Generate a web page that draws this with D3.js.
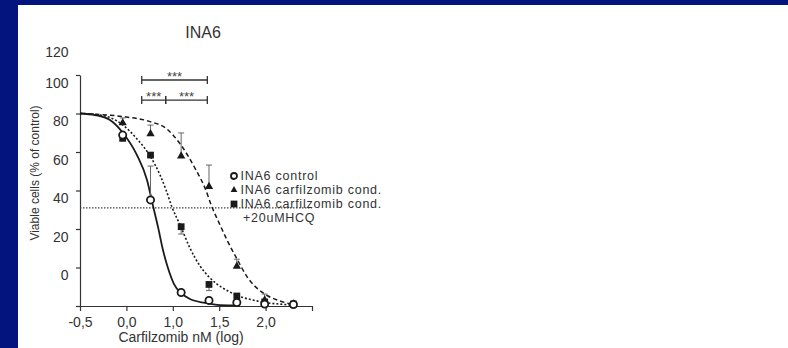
<!DOCTYPE html>
<html>
<head>
<meta charset="utf-8">
<script src="https://cdn.jsdelivr.net/npm/d3@7"></script>
<style>
html, body { margin: 0; padding: 0; background: #fff; }
svg { display: block; font-family: "Liberation Sans", Arial, sans-serif; }
</style>
</head>
<body>
<script>
// axis ticks and their (as printed) labels
const X_TICKS = [-0.5, 0, 0.5, 1, 1.5, 2];
const X_TICK_LABELS = ['-0,5', '0,0', '1,0', '1,5', '2,0'];
const Y_TICKS = [0, 20, 40, 60, 80, 100, 120];
const Y_TICK_LABELS = ['0', '20', '40', '60', '80', '100', '120'];

// measured points, log nM
const DOSES = [-0.04, 0.26, 0.59, 0.89, 1.19, 1.49, 1.80];
const CONTROL = [88.8, 55.1, 7.0, 2.9, 1.8, 1.0, 0.8];
const CONTROL_ERR = [1.0, 17.6, 0.8, 0.5, 0.3, 0.3, 0];
const CARF = [95.1, 89.4, 77.9, 62.0, 20.6, 3.1, 1.0];
const CARF_ERR = [2.6, 4.6, 12.0, 11.2, 3.7, 3.1, 0.5];
const HCQ = [87.1, 78.4, 41.2, 11.2, 5.2, 2.1, 1.0];
const HCQ_ERR = [1.2, 0.8, 3.8, 3.2, 1.7, 0.5, 0.3];

// fitted curves: [log dose, % viable]
const CONTROL_FIT = [[-0.5, 100], [-0.338, 99.2], [-0.177, 96.6], [-0.037, 89.9], [0.114, 78.4],
    [0.222, 65.5], [0.287, 52], [0.341, 41.0], [0.394, 29.1], [0.448, 19.7], [0.513, 11.4],
    [0.588, 6.8], [0.685, 3.6], [0.847, 1.6], [1.009, 0.5], [1.224, 0.3]];
const HCQ_FIT = [[-0.5, 100], [-0.284, 99.2], [-0.166, 97.7], [-0.037, 94.0], [0.114, 86.8],
    [0.254, 78.0], [0.362, 68.1], [0.427, 60.3], [0.491, 51.4], [0.578, 42.1], [0.685, 30.1],
    [0.793, 20.8], [0.890, 15.1], [0.976, 11.4], [1.095, 7.8], [1.224, 4.9], [1.364, 3.1],
    [1.494, 1.8], [1.655, 1.0], [1.795, 0.5]];
const CARF_FIT = [[-0.5, 100], [-0.284, 99.5], [-0.037, 98.4], [0.254, 95.8], [0.438, 91.9],
    [0.588, 83.6], [0.750, 70.6], [0.847, 61.3], [0.922, 51.4], [1.009, 42.1], [1.095, 33.2],
    [1.192, 24.4], [1.310, 14.5], [1.418, 8.8], [1.526, 5.2], [1.655, 2.6], [1.795, 0.8]];

const HALF_LINE = 51;

// significance brackets
const BRACKETS = [
    {x1: 0.165, x2: 0.872, y: 117.4, label: '***'},
    {x1: 0.165, x2: 0.423, y: 107.0, label: '***'},
    {x1: 0.423, x2: 0.872, y: 107.0, label: '***'},
];

const LEGEND = [
    {sym: 'circle', lines: ['INA6 control']},
    {sym: 'triangle', lines: ['INA6 carfilzomib cond.']},
    {sym: 'square', lines: ['INA6 carfilzomib cond.', '+20uMHCQ']},
];

const INK = '#1a1a1a';

function main()
{
    const svg = d3.select('body').append('svg')
        .attr('width', 788)
        .attr('height', 348);

    // slide background
    svg.append('rect').attr('width', 788).attr('height', 348).attr('fill', '#fff');
    svg.append('rect').attr('width', 788).attr('height', 5).attr('fill', '#03147f');
    svg.append('rect').attr('width', 18).attr('height', 348).attr('fill', '#03147f');

    const x = d3.scaleLinear().domain([-0.5, 2]).range([80, 312]);
    const y = d3.scaleLinear().domain([0, 120]).range([306, 75]);
    // the printed y labels sit shifted against their ticks
    const yLab = d3.scaleLinear().domain([0, 100, 120]).range([275, 83, 52]);

    // axes
    const gx = svg.append('g')
        .attr('transform', `translate(0,${y(0)})`)
        .call(d3.axisBottom(x).tickValues(X_TICKS).tickSize(5).tickSizeOuter(0)
            .tickFormat((d, i) => X_TICK_LABELS[i] || ''));
    gx.selectAll('path, line').attr('stroke', '#333').attr('stroke-width', 1.2);
    gx.selectAll('text').attr('font-size', 14).attr('fill', '#333')
        .attr('font-family', '"Liberation Sans", Arial, sans-serif').attr('dy', '0.95em');

    const gy = svg.append('g')
        .attr('transform', `translate(${x(-0.5)},0)`)
        .call(d3.axisLeft(y).tickValues(Y_TICKS).tickSize(4).tickSizeOuter(0).tickFormat(''));
    gy.selectAll('path, line').attr('stroke', '#333').attr('stroke-width', 1.2);

    const gyl = svg.append('g')
        .attr('transform', `translate(${x(-0.5)},0)`)
        .call(d3.axisLeft(yLab).tickValues(Y_TICKS).tickSize(0).tickPadding(11.5)
            .tickFormat((d, i) => Y_TICK_LABELS[i]));
    gyl.select('.domain').remove();
    gyl.selectAll('text').attr('font-size', 14).attr('fill', '#333')
        .attr('font-family', '"Liberation Sans", Arial, sans-serif');

    // titles
    svg.append('text')
        .attr('x', 203).attr('y', 38)
        .attr('text-anchor', 'middle').attr('font-size', 16).attr('fill', '#333')
        .text('INA6');
    svg.append('text')
        .attr('x', 181).attr('y', 342)
        .attr('text-anchor', 'middle').attr('font-size', 14).attr('fill', '#333')
        .text('Carfilzomib nM (log)');
    svg.append('text')
        .attr('transform', 'translate(38.5,173) rotate(-90)')
        .attr('text-anchor', 'middle').attr('font-size', 12).attr('fill', '#333')
        .text('Viable cells (% of control)');

    // 50% line
    svg.append('line')
        .attr('x1', x(-0.5)).attr('x2', x(2))
        .attr('y1', y(HALF_LINE)).attr('y2', y(HALF_LINE))
        .attr('stroke', '#444').attr('stroke-width', 1.2)
        .attr('stroke-dasharray', '1.5,1.5');

    // fitted curves
    const line = d3.line()
        .curve(d3.curveMonotoneX)
        .x(d => x(d[0]))
        .y(d => y(d[1]));
    const fits = [
        {data: CONTROL_FIT, dash: null, w: 1.8},
        {data: HCQ_FIT, dash: '2,2', w: 1.6},
        {data: CARF_FIT, dash: '4.5,3', w: 1.5},
    ];
    fits.forEach(f => {
        svg.append('path')
            .attr('d', line(f.data))
            .attr('fill', 'none')
            .attr('stroke', INK)
            .attr('stroke-width', f.w)
            .attr('stroke-dasharray', f.dash);
    });

    // error bars
    function errorBars(vals, errs, dir)
    {
        const g = svg.append('g').attr('stroke', '#666').attr('stroke-width', 1);
        DOSES.forEach((d, i) => {
            if (errs[i] <= 0) return;
            const x0 = x(d), y0 = y(vals[i]), y1 = y(vals[i] + dir * errs[i]);
            g.append('line').attr('x1', x0).attr('x2', x0).attr('y1', y0).attr('y2', y1);
            g.append('line').attr('x1', x0 - 3).attr('x2', x0 + 3).attr('y1', y1).attr('y2', y1);
        });
    }
    errorBars(CONTROL, CONTROL_ERR, 1);
    errorBars(CARF, CARF_ERR, 1);
    errorBars(HCQ, HCQ_ERR, -1);

    // markers
    const tri = d3.symbol(d3.symbolTriangle, 30)();
    const sq = d3.symbol(d3.symbolSquare, 46)();
    svg.append('g').selectAll('path')
        .data(DOSES.map((d, i) => [d, HCQ[i]]))
        .join('path')
        .attr('d', sq)
        .attr('transform', d => `translate(${x(d[0])},${y(d[1])})`)
        .attr('fill', INK);
    svg.append('g').selectAll('path')
        .data(DOSES.map((d, i) => [d, CARF[i]]))
        .join('path')
        .attr('d', tri)
        .attr('transform', d => `translate(${x(d[0])},${y(d[1])})`)
        .attr('fill', INK);
    svg.append('g').selectAll('circle')
        .data(DOSES.map((d, i) => [d, CONTROL[i]]))
        .join('circle')
        .attr('cx', d => x(d[0]))
        .attr('cy', d => y(d[1]))
        .attr('r', 3.6)
        .attr('fill', '#fff')
        .attr('stroke', INK)
        .attr('stroke-width', 1.8);

    // significance brackets
    const gb = svg.append('g');
    BRACKETS.forEach(b => {
        const x1 = x(b.x1), x2 = x(b.x2), yy = y(b.y);
        gb.append('path')
            .attr('d', `M${x1},${yy - 4}V${yy + 4}M${x1},${yy}H${x2}M${x2},${yy - 4}V${yy + 4}`)
            .attr('fill', 'none').attr('stroke', '#333').attr('stroke-width', 1.3);
        gb.append('text')
            .attr('x', (x1 + x2) / 2).attr('y', yy + 1)
            .attr('text-anchor', 'middle').attr('font-size', 13).attr('fill', '#444')
            .text(b.label);
    });

    // legend
    const lg = svg.append('g').attr('transform', 'translate(234,180)');
    let row = 0;
    LEGEND.forEach(item => {
        const cy = row * 14 - 4;
        if (item.sym === 'circle') {
            lg.append('circle').attr('cx', 0).attr('cy', cy).attr('r', 3)
                .attr('fill', '#fff').attr('stroke', INK).attr('stroke-width', 1.8);
        } else {
            lg.append('path')
                .attr('d', item.sym === 'triangle' ? d3.symbol(d3.symbolTriangle, 20)() : sq)
                .attr('transform', `translate(0,${cy})`)
                .attr('fill', INK);
        }
        item.lines.forEach((t, k) => {
            lg.append('text')
                .attr('x', k ? 9 : 6.5).attr('y', (row + k) * 14)
                .attr('font-size', 12.5).attr('letter-spacing', 0.75).attr('fill', '#333')
                .text(t);
        });
        row += item.lines.length;
    });
}

main();
</script>
</body>
</html>
